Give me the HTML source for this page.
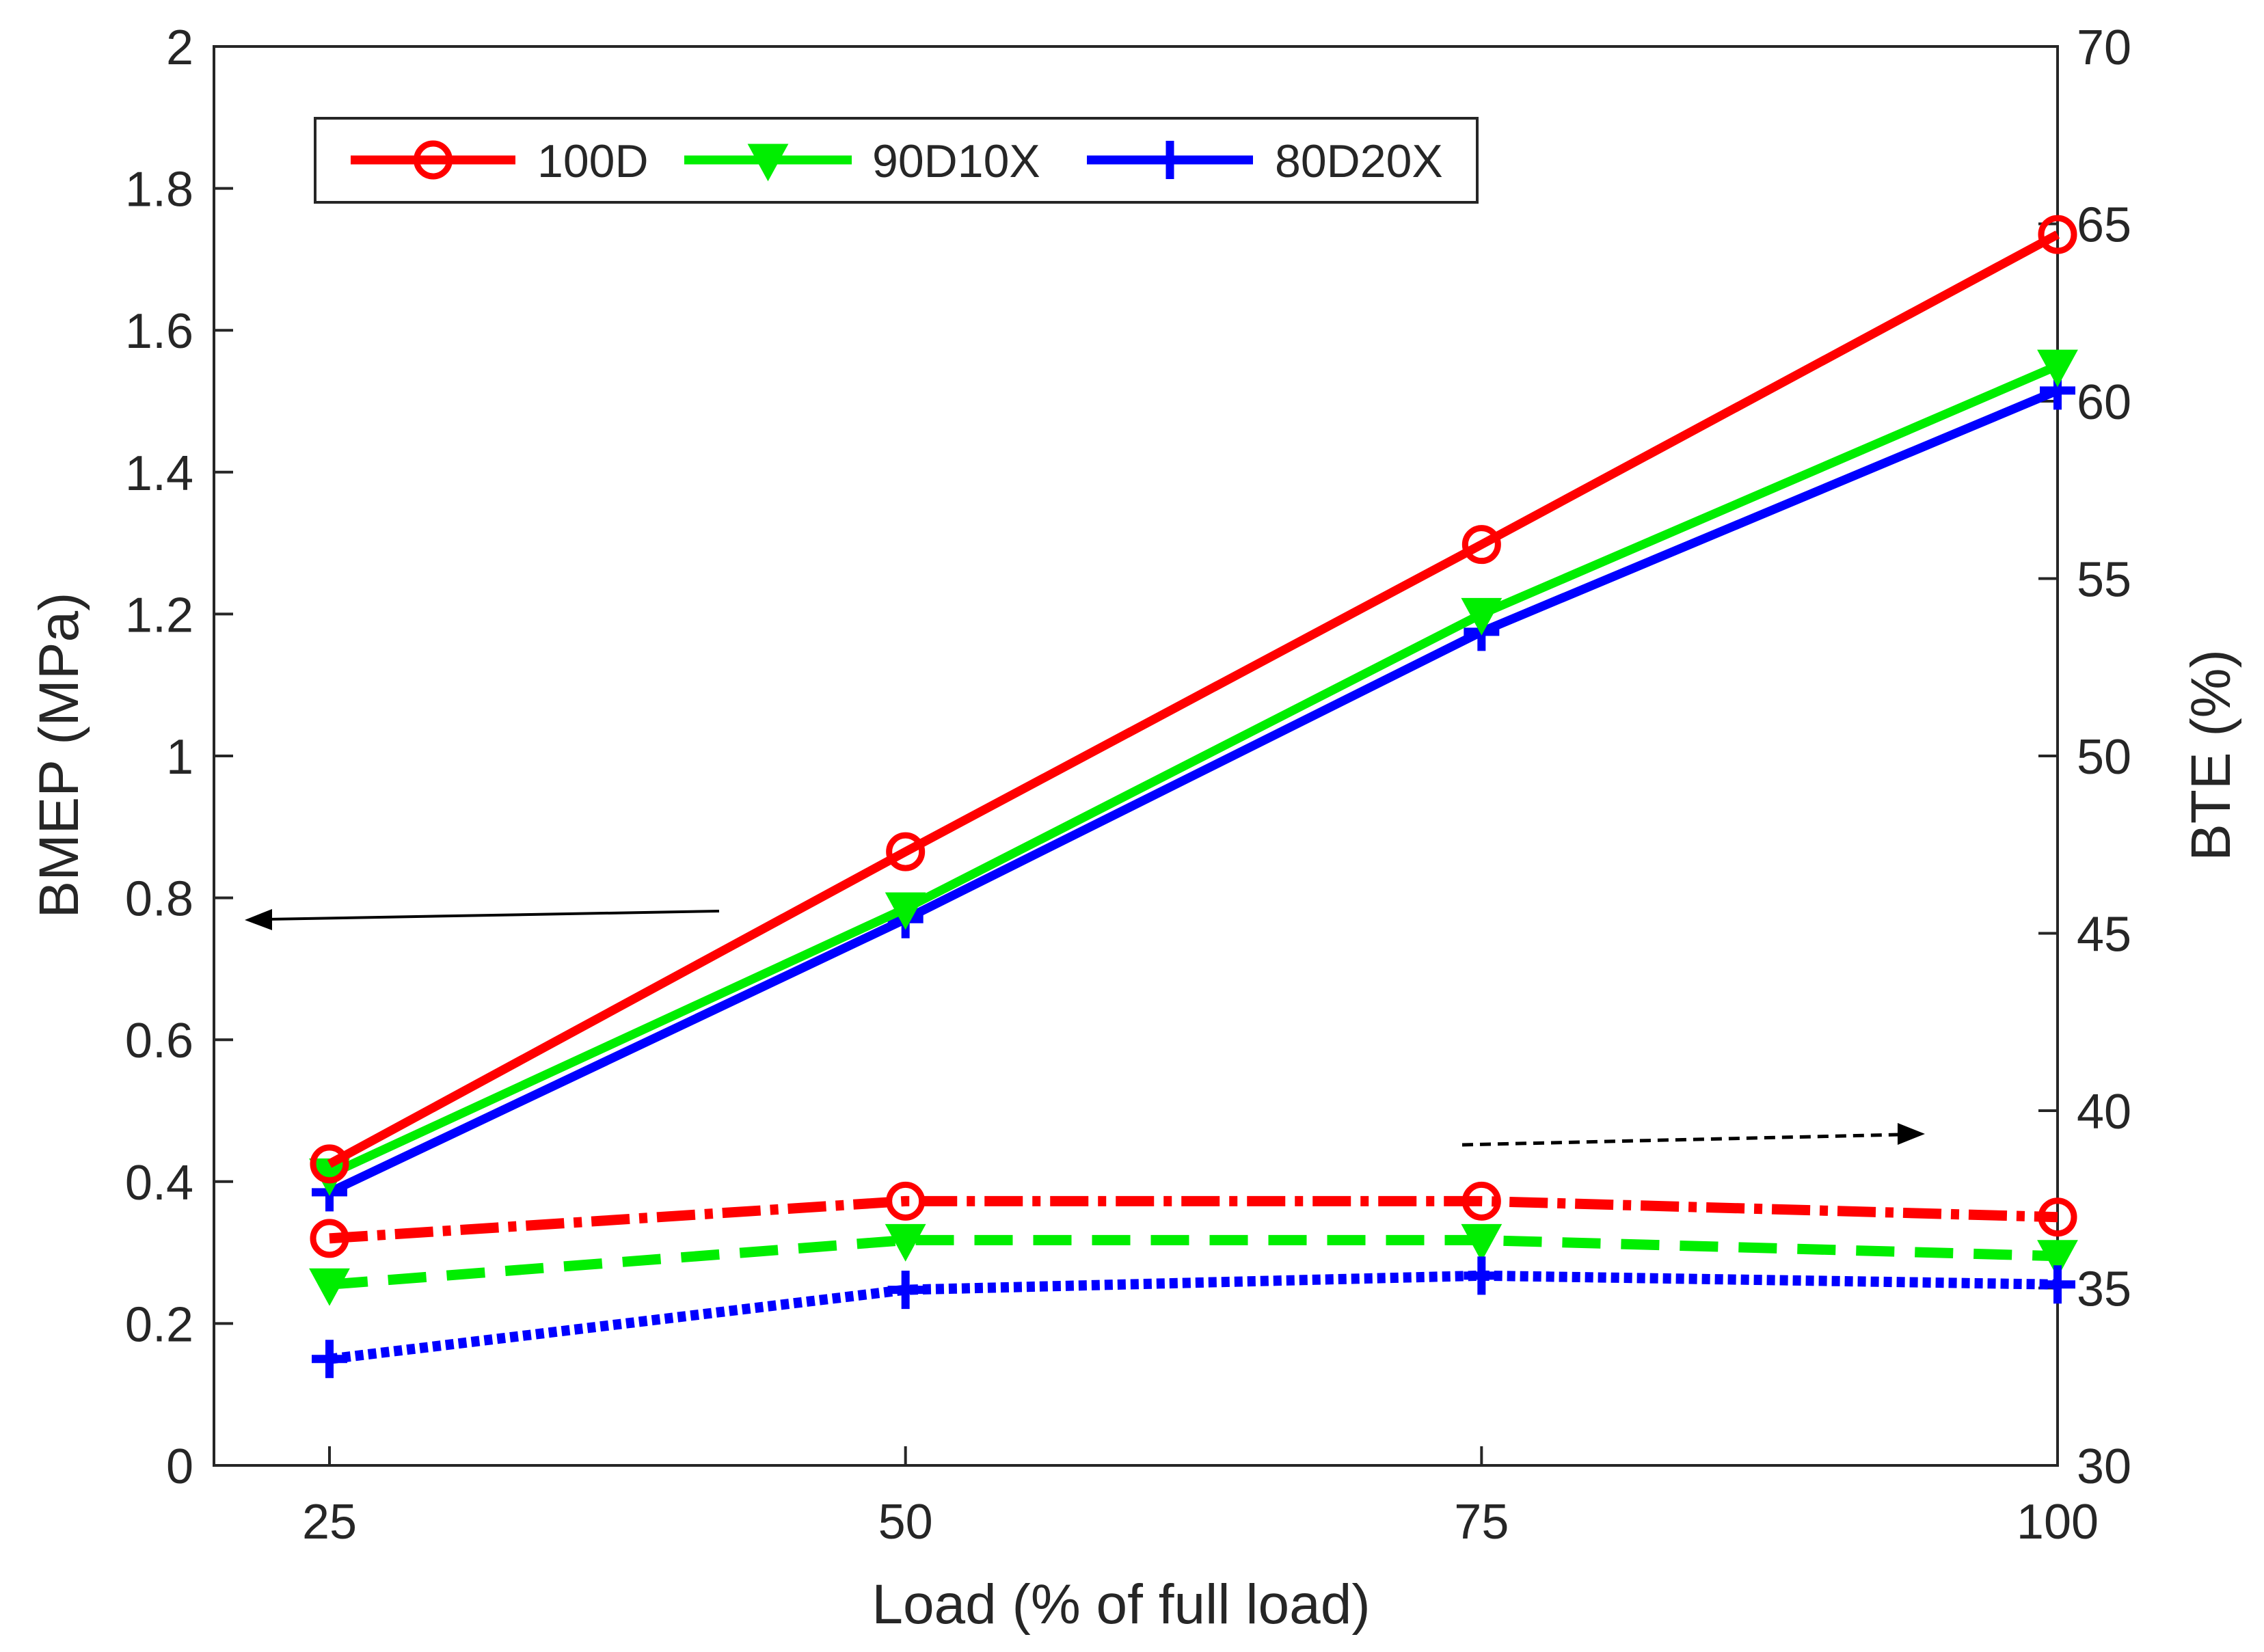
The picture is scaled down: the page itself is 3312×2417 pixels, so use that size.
<!DOCTYPE html>
<html><head><meta charset="utf-8"><style>
html,body{margin:0;padding:0;background:#fff;}
svg{display:block;font-family:"Liberation Sans",sans-serif;}
</style></head><body>
<svg id="chart" width="3312" height="2417" viewBox="0 0 3312 2417" xmlns="http://www.w3.org/2000/svg">
<rect x="0" y="0" width="3312" height="2417" fill="#fff"/>
<g id="plot"></g>
</svg>
<script>
const loads = [25, 50, 75, 100];
const xTicks = [25, 50, 75, 100];
const leftTicks = [0, 0.2, 0.4, 0.6, 0.8, 1, 1.2, 1.4, 1.6, 1.8, 2];
const leftTickLabels = ["0","0.2","0.4","0.6","0.8","1","1.2","1.4","1.6","1.8","2"];
const rightTicks = [30, 35, 40, 45, 50, 55, 60, 65, 70];
const bmep100D = [0.425, 0.865, 1.298, 1.735];
const bmep90D10X = [0.41, 0.785, 1.2, 1.55];
const bmep80D20X = [0.385, 0.77, 1.175, 1.515];
const bte100D = [36.4, 37.45, 37.45, 37.0];
const bte90D10X = [35.1, 36.35, 36.35, 35.9];
const bte80D20X = [33.0, 34.95, 35.35, 35.1];

const NS = "http://www.w3.org/2000/svg";
const L = 313, R = 3010, T = 68, B = 2144;
const X0 = 482;
function xs(v){ return X0 + (v - 25) * (R - X0) / 75; }
function yl(v){ return B - v * (B - T) / 2; }
function yr(v){ return B - (v - 30) * (B - T) / 40; }
const g = document.getElementById('plot');
function el(tag, attrs, parent){
  const e = document.createElementNS(NS, tag);
  for (const k in attrs) e.setAttribute(k, attrs[k]);
  (parent || g).appendChild(e);
  return e;
}
const box = el('rect', {x:L, y:T, width:R-L, height:B-T, fill:'none', stroke:'#262626', 'stroke-width':4});


xTicks.forEach(v => {
  const x = xs(v);
  const t = el('line', {x1:x, y1:B, x2:x, y2:B-28, stroke:'#262626', 'stroke-width':4});
  
  
  const lb = el('text', {x:x, y:B+107, 'font-size':72, fill:'#262626', 'text-anchor':'middle'});
  lb.textContent = String(v);
  
  
});
leftTicks.forEach((v, i) => {
  const y = yl(v);
  const t = el('line', {x1:L, y1:y, x2:L+28, y2:y, stroke:'#262626', 'stroke-width':4});
  
  
  const lb = el('text', {x:L-30, y:y+26, 'font-size':72, fill:'#262626', 'text-anchor':'end'});
  lb.textContent = leftTickLabels[i];
  
  
});
rightTicks.forEach(v => {
  const y = yr(v);
  const t = el('line', {x1:R, y1:y, x2:R-28, y2:y, stroke:'#262626', 'stroke-width':4});
  
  
  const lb = el('text', {x:R+28, y:y+26, 'font-size':72, fill:'#262626', 'text-anchor':'start'});
  lb.textContent = String(v);
  
  
});
const xt = el('text', {x:1640, y:2375, 'font-size':82, fill:'#262626', 'text-anchor':'middle'});
xt.textContent = 'Load (% of full load)';


const ylt = el('text', {x:0, y:0, 'font-size':82, fill:'#262626', 'text-anchor':'middle', transform:'translate(114,1105) rotate(-90)'});
ylt.textContent = 'BMEP (MPa)';


const yrt = el('text', {x:0, y:0, 'font-size':82, fill:'#262626', 'text-anchor':'middle', transform:'translate(3262,1105) rotate(-90)'});
yrt.textContent = 'BTE (%)';



function marker(type, x, y, color, parent){
  let m;
  if (type === 'o') m = el('circle', {cx:x, cy:y, r:24, fill:'none', stroke:color, 'stroke-width':9}, parent);
  else if (type === 'v') m = el('path', {d:`M${x-24},${y-20} L${x+24},${y-20} L${x},${y+24} Z`, fill:color, stroke:color, 'stroke-width':7}, parent);
  else m = el('path', {d:`M${x-26},${y} L${x+26},${y} M${x},${y-28} L${x},${y+28}`, fill:'none', stroke:color, 'stroke-width':12}, parent);
  return m;
}
function series(vals, scale, color, dash, mk, name, w){
  const grp = el('g', {});
  
  
  const pts = vals.map((v, i) => xs(loads[i]) + ',' + scale(v)).join(' ');
  const a = {points:pts, fill:'none', stroke:color, 'stroke-width':w, 'stroke-linejoin':'round'};
  if (dash) a['stroke-dasharray'] = dash;
  const pl = el('polyline', a, grp);
  
  
  vals.forEach((v, i) => {
    const m = marker(mk, xs(loads[i]), scale(v), color, grp);
    
    
  });
}
series(bte100D, yr, '#ff0000', '56,14,12,14', 'o', 'bte-100d', 15);
series(bte90D10X, yr, '#00ee00', '56,30', 'v', 'bte-90d10x', 15);
series(bte80D20X, yr, '#0000ff', '12,7', '+', 'bte-80d20x', 15);
series(bmep80D20X, yl, '#0000ff', null, '+', 'bmep-80d20x', 13);
series(bmep90D10X, yl, '#00ee00', null, 'v', 'bmep-90d10x', 13);
series(bmep100D, yl, '#ff0000', null, 'o', 'bmep-100d', 13);

const a1 = el('line', {x1:1052, y1:1333, x2:390, y2:1345, stroke:'#000', 'stroke-width':4});


const a1h = el('path', {d:'M358,1346 L398,1330 L398,1361 Z', fill:'#000'});


const a2 = el('line', {x1:2139, y1:1675, x2:2780, y2:1660, stroke:'#000', 'stroke-width':5, 'stroke-dasharray':'16,10'});


const a2h = el('path', {d:'M2816,1659 L2776,1643 L2776,1675 Z', fill:'#000'});



const lg = el('g', {});


const lr = el('rect', {x:461, y:173, width:1700, height:123, fill:'#fff', stroke:'#262626', 'stroke-width':4}, lg);


const legItems = [
  {label:'100D', color:'#ff0000', mk:'o', x1:513, x2:754, tx:786},
  {label:'90D10X', color:'#00ee00', mk:'v', x1:1001, x2:1246, tx:1276},
  {label:'80D20X', color:'#0000ff', mk:'+', x1:1590, x2:1833, tx:1865}
];
legItems.forEach(it => {
  const e = el('g', {}, lg);
  
  
  el('line', {x1:it.x1, y1:234, x2:it.x2, y2:234, stroke:it.color, 'stroke-width':13}, e);
  marker(it.mk, (it.x1 + it.x2) / 2, 234, it.color, e);
  const t = el('text', {x:it.tx, y:259, 'font-size':68, fill:'#262626'}, e);
  t.textContent = it.label;
  
  
});
</script>
</body></html>
